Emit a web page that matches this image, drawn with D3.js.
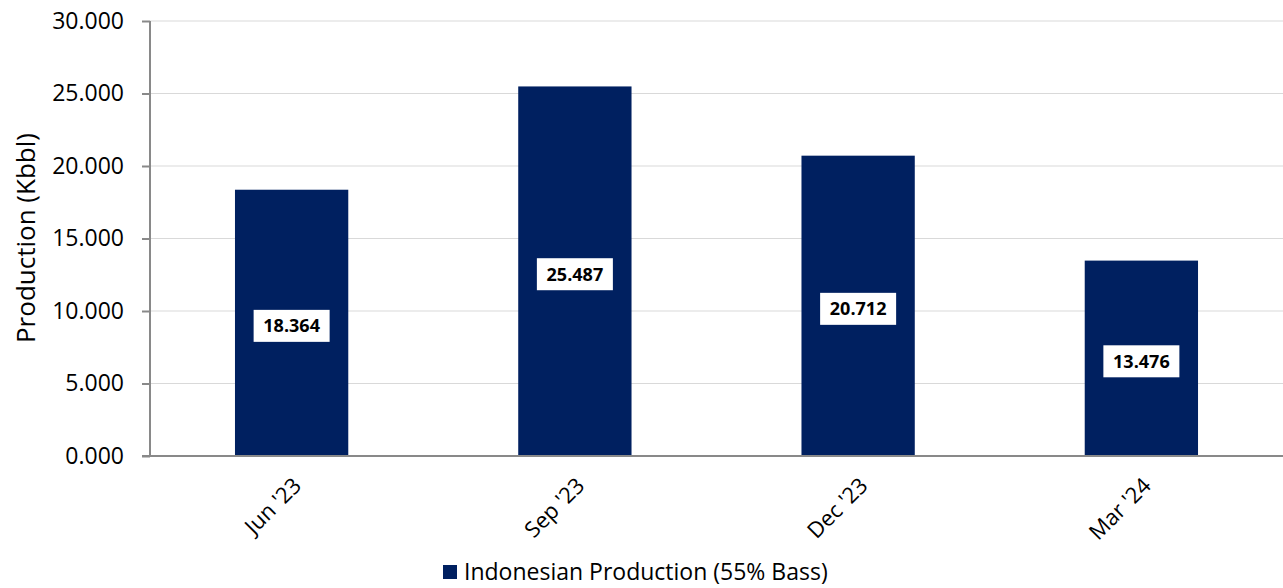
<!DOCTYPE html>
<html><head><meta charset="utf-8">
<script src="https://cdn.jsdelivr.net/npm/d3@7"></script>
<style>body{margin:0;background:#fff}svg{display:block}</style>
</head><body>
<svg id="c" width="1283" height="588"></svg>
<script>
const categories = ["Jun '23", "Sep '23", "Dec '23", "Mar '24"];
const values = [18.364, 25.487, 20.712, 13.476];
const yTicks = [0, 5, 10, 15, 20, 25, 30];
const seriesName = "Indonesian Production (55% Bass)";
const yTitle = "Production (Kbbl)";

const font = "'Open Sans', 'DejaVu Sans', sans-serif";
const color = "#002060";
const svg = d3.select("#c");
const m = {l:150, r:1283, t:21, b:456};
const x = d3.scaleBand().domain(categories).range([m.l, m.r]).paddingInner(0.6).paddingOuter(0.3);
const y = d3.scaleLinear().domain([0, 30]).range([m.b, m.t]);
const fmt = d3.format(".3f");

// gridlines
svg.append("g").selectAll("line").data(yTicks.filter(d=>d>0)).join("line")
  .attr("x1", m.l).attr("x2", m.r).attr("y1", d=>y(d)).attr("y2", d=>y(d))
  .attr("stroke", "#d9d9d9").attr("stroke-width", 1);

// bars
svg.append("g").selectAll("rect").data(values).join("rect")
  .attr("x", (d,i)=>x(categories[i])).attr("width", x.bandwidth())
  .attr("y", d=>y(d)).attr("height", d=>y(0)-y(d)).attr("fill", color);

// y axis
const ya = svg.append("g").attr("transform", `translate(${m.l},0)`)
  .call(d3.axisLeft(y).tickValues(yTicks).tickFormat(fmt).tickSize(8).tickPadding(18));
ya.select(".domain").attr("stroke", "#898989").attr("stroke-width", 2).attr("d", `M0,${m.t}V${m.b}`);
ya.selectAll(".tick line").attr("stroke", "#898989").attr("stroke-width", 2);
ya.selectAll(".tick text").attr("font-family", font).attr("font-size", 23).attr("fill", "#000");

// x axis
const xa = svg.append("g").attr("transform", `translate(0,${m.b})`)
  .call(d3.axisBottom(x).tickSize(0).tickPadding(0));
xa.select(".domain").attr("stroke", "#898989").attr("stroke-width", 2).attr("d", `M${m.l-8},0H${m.r}`);
xa.selectAll(".tick text").attr("font-family", font).attr("font-size", 22).attr("fill", "#000")
  .attr("text-anchor", "end").attr("dy", 0).attr("dx", 0)
  .attr("transform", "translate(11,31) rotate(-45)");

// data labels
const lg = svg.append("g");
values.forEach((v,i)=>{
  const cx = x(categories[i]) + x.bandwidth()/2;
  const cy = (y(v)+y(0))/2 + 3;
  const g = lg.append("g");
  g.append("rect").attr("x", cx-38).attr("y", cy-16).attr("width", 76).attr("height", 32).attr("fill", "#fff");
  g.append("text").attr("x", cx).attr("y", cy).attr("dy", "0.35em")
    .attr("text-anchor", "middle").attr("font-family", font).attr("font-weight", "bold")
    .attr("font-size", 18).attr("fill", "#000").text(fmt(v));
});

// y title
svg.append("text").attr("transform", "translate(35,238) rotate(-90)").attr("text-anchor", "middle")
  .attr("font-family", font).attr("font-size", 26).attr("fill", "#000").text(yTitle);

// legend
svg.append("rect").attr("x", 443).attr("y", 565).attr("width", 14).attr("height", 14).attr("fill", color);
svg.append("text").attr("x", 464).attr("y", 580).attr("font-family", font).attr("font-size", 23)
  .attr("fill", "#000").text(seriesName);
</script>
</body></html>
